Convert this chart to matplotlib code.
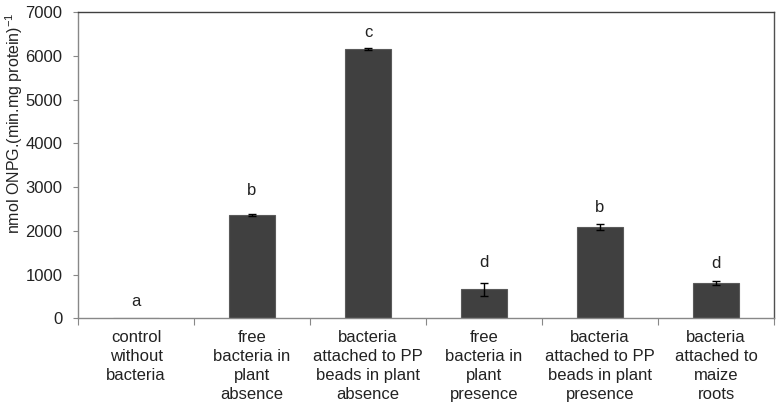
import matplotlib
matplotlib.use("Agg")
import matplotlib.pyplot as plt
import numpy as np

plt.rcParams['font.family'] = ['Liberation Sans', 'DejaVu Sans']

# data
categories = ["control\nwithout\nbacteria",
              "free\nbacteria in\nplant\nabsence",
              "bacteria\nattached to PP\nbeads in plant\nabsence",
              "free\nbacteria in\nplant\npresence",
              "bacteria\nattached to PP\nbeads in plant\npresence",
              "bacteria\nattached to\nmaize\nroots"]
values = [0, 2365, 6150, 667, 2096, 804]
errors = [0, 25, 25, 148, 65, 50]
letters = ["a", "b", "c", "d", "b", "d"]
letter_y = [384, 2912, 6536, 1283, 2546, 1267]

fig = plt.figure(figsize=(7.78, 4.09), dpi=100)
ax = fig.add_axes([0.1003, 0.2213, 0.8946, 0.7494])

x = np.arange(len(categories))
ax.bar(x, values, width=0.4, color="#404040", edgecolor="#5a5a5a", linewidth=0.8, zorder=2)
ax.errorbar(x[1:], values[1:], yerr=errors[1:], fmt="none", ecolor="black",
            elinewidth=1.0, capsize=3, capthick=1.0, zorder=3)

for xi, lab, ly in zip(x, letters, letter_y):
    ax.text(xi, ly, lab, ha="center", va="center", fontsize=12, color="#222222")

ax.set_xlim(-0.5, len(categories) - 0.5)
ax.set_ylim(0, 7000)
ax.set_yticks(np.arange(0, 7001, 1000))
ax.tick_params(axis="y", labelsize=12, labelcolor="#222222", length=3.6, width=0.8,
               direction="out", color="#888888", pad=7.5)

ax.set_xticks(x)
ax.set_xticklabels(categories, fontsize=12, color="#222222", linespacing=1.35)
ax.tick_params(axis="x", length=0, pad=8)
ax.set_xticks(np.arange(-0.5, len(categories)), minor=True)
ax.tick_params(axis="x", which="minor", length=5, width=0.8, color="#888888", direction="out")

ax.spines["left"].set_color("#888888")
ax.spines["bottom"].set_color("#888888")
ax.spines["top"].set_color("#404040")
ax.spines["right"].set_color("#505050")
for s in ax.spines.values():
    s.set_linewidth(1.0)

fig.text(14 / 778, 1 - 123 / 409, r"nmol ONPG.(min.mg protein)$^{\mathregular{-1}}$",
         rotation=90, ha="center", va="center", fontsize=11.5, color="#222222")

fig.savefig("out.png", dpi=100)
